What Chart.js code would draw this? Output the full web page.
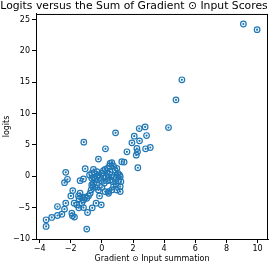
<!DOCTYPE html>
<html lang="en">
<head>
    <meta charset="UTF-8">
    <title>Logits vs Gradient x Input</title>
    <style>
        body {
            margin: 0;
            background-color: #fff;
        }
        canvas {
            display: block;
        }
    </style>
</head>
<body>
    <canvas id="scatterChart" width="276" height="266"></canvas>

    <script src="https://cdn.jsdelivr.net/npm/chart.js"></script>
    <script>
        // values
        const gradInputSum = [
            -3.58, -3.58, -3.22, -2.85, -2.57, -2.40, -2.85, -2.32, -1.93, -1.89,
            -1.76, -1.78, -1.48, -1.18, -0.92, -0.62, -0.97, -2.32, -2.40, -2.21,
            -1.99, -1.87, -1.50, -1.40, -1.46, -1.29, -1.18, -1.07, -1.40, -1.18,
            -1.07, -0.86, -0.75, -0.69, -0.65, -0.54, -1.61, -1.29, -0.79, -0.65,
            -0.54, -0.43, -0.32, -0.22, -0.11, 0.00, 0.10, 0.21, 0.28, 0.36,
            0.49, 0.53, 0.64, 0.75, 0.85, 0.96, 1.03, 1.13, 1.07, 1.22,
            0.92, 0.70, 0.53, 0.36, 0.15, 0.00, -0.22, -0.15, 0.21, 0.43,
            0.64, -0.58, -0.43, -0.65, 0.75, 0.32, -0.32, -0.07, 0.64, -0.54,
            0.96, 1.18, -0.04, -0.37, 1.18, 0.43, 1.18, 0.75, -0.32, 0.10,
            0.43, 0.92, -0.97, -1.16, -0.22, 0.23, 0.88, 1.28, 1.43, 1.61,
            1.93, 2.08, 2.40, 2.78, 2.87, 2.42, 2.25, 2.29, 2.21, 2.81,
            3.11, 2.31, 0.53, 4.28, 4.76, 5.14, 9.09, 9.97
        ];
        const logits = [
            -8.00, -6.94, -6.56, -6.25, -6.04, -5.24, -4.82, -4.29, -5.88, -6.30,
            -6.51, -4.29, -5.03, -4.98, -5.77, -5.03, -8.42, 0.63, -1.01, -0.48,
            -3.13, -2.28, -3.13, -2.70, -3.60, -3.34, -3.76, -3.34, -0.69, -0.43,
            1.21, -3.13, -2.70, -2.17, -1.38, -1.11, -4.55, -4.29, 0.21, 0.47,
            -0.16, -0.48, 0.74, 0.21, -0.16, 0.47, 0.90, 1.11, -0.06, 1.27,
            1.64, 0.74, 0.21, -0.16, 1.00, 1.27, 0.47, 0.21, -0.69, -0.85,
            -1.22, -0.85, -0.59, -0.69, -1.11, -1.75, -2.17, -3.13, -2.44, -2.44,
            -2.17, -1.64, -1.75, -0.32, 1.64, 0.47, -1.01, -0.69, 2.17, 1.11,
            -2.17, -1.64, -4.55, -4.29, -0.06, -2.70, -2.44, -1.64, 0.05, 0.05,
            -0.16, -0.16, -3.50, 5.45, 2.75, 4.39, 6.93, 2.32, 2.27, 3.91,
            5.34, 6.40, 7.62, 7.88, 6.50, 5.66, 4.44, 3.91, 3.38, 4.39,
            4.60, 1.37, 2.06, 7.78, 12.2, 15.4, 24.3, 23.4
        ];
        const xTicks = [-4, -2, 0, 2, 4, 6, 8, 10];
        const yTicks = [-10, -5, 0, 5, 10, 15, 20, 25];

        const points = gradInputSum.map((x, i) => ({ x: x, y: logits[i] }));
        const blue = '#1f77b4';
        const font = 'DejaVu Sans';
        const minus = v => String(v).replace('-', '\u2212');

        // box round the plot like matplotlib
        const frame = {
            id: 'frame',
            afterDraw(chart) {
                const a = chart.chartArea;
                const ctx = chart.ctx;
                ctx.save();
                ctx.strokeStyle = '#000';
                ctx.lineWidth = 1;
                ctx.strokeRect(a.left + 0.5, a.top + 0.5, a.right - a.left - 1, a.bottom - a.top);
                ctx.restore();
            }
        };

        new Chart(document.getElementById('scatterChart'), {
            type: 'scatter',
            data: {
                datasets: [
                    {
                        data: points,
                        pointRadius: 2.8,
                        borderWidth: 1.2,
                        borderColor: blue,
                        backgroundColor: 'rgba(0,0,0,0)'
                    },
                    {
                        data: points,
                        pointRadius: 1.1,
                        borderWidth: 0,
                        backgroundColor: blue
                    }
                ]
            },
            options: {
                responsive: false,
                animation: false,
                devicePixelRatio: 1,
                layout: { padding: { left: 0, right: 8, top: 0, bottom: 0 } },
                plugins: {
                    legend: { display: false },
                    tooltip: { enabled: false },
                    title: {
                        display: true,
                        text: 'Logits versus the Sum of Gradient \u2299 Input Scores',
                        color: '#000',
                        font: { family: font, size: 10.8, weight: 'normal' },
                        padding: { top: 0, bottom: 1 }
                    }
                },
                scales: {
                    x: {
                        type: 'linear',
                        min: -4.23,
                        max: 10.67,
                        afterBuildTicks: s => { s.ticks = xTicks.map(v => ({ value: v })); },
                        afterFit: s => { s.height = 27; },
                        grid: { drawOnChartArea: false, tickLength: 4, color: '#000' },
                        border: { display: true, color: '#000' },
                        ticks: { color: '#000', padding: 1, maxRotation: 0, font: { family: font, size: 8 }, callback: minus },
                        title: {
                            display: true,
                            text: 'Gradient \u2299 Input summation',
                            color: '#000',
                            font: { family: font, size: 8 },
                            padding: { top: 0, bottom: 2 }
                        }
                    },
                    y: {
                        type: 'linear',
                        min: -10,
                        max: 25.9,
                        afterBuildTicks: s => { s.ticks = yTicks.map(v => ({ value: v })); },
                        afterFit: s => { s.width = 36; },
                        grid: { drawOnChartArea: false, tickLength: 4, color: '#000' },
                        border: { display: true, color: '#000' },
                        ticks: { color: '#000', padding: 2, font: { family: font, size: 8 }, callback: minus },
                        title: {
                            display: true,
                            text: 'logits',
                            color: '#000',
                            font: { family: font, size: 8 },
                            padding: { top: 2, bottom: 0 }
                        }
                    }
                }
            },
            plugins: [frame]
        });
    </script>
</body>
</html>
